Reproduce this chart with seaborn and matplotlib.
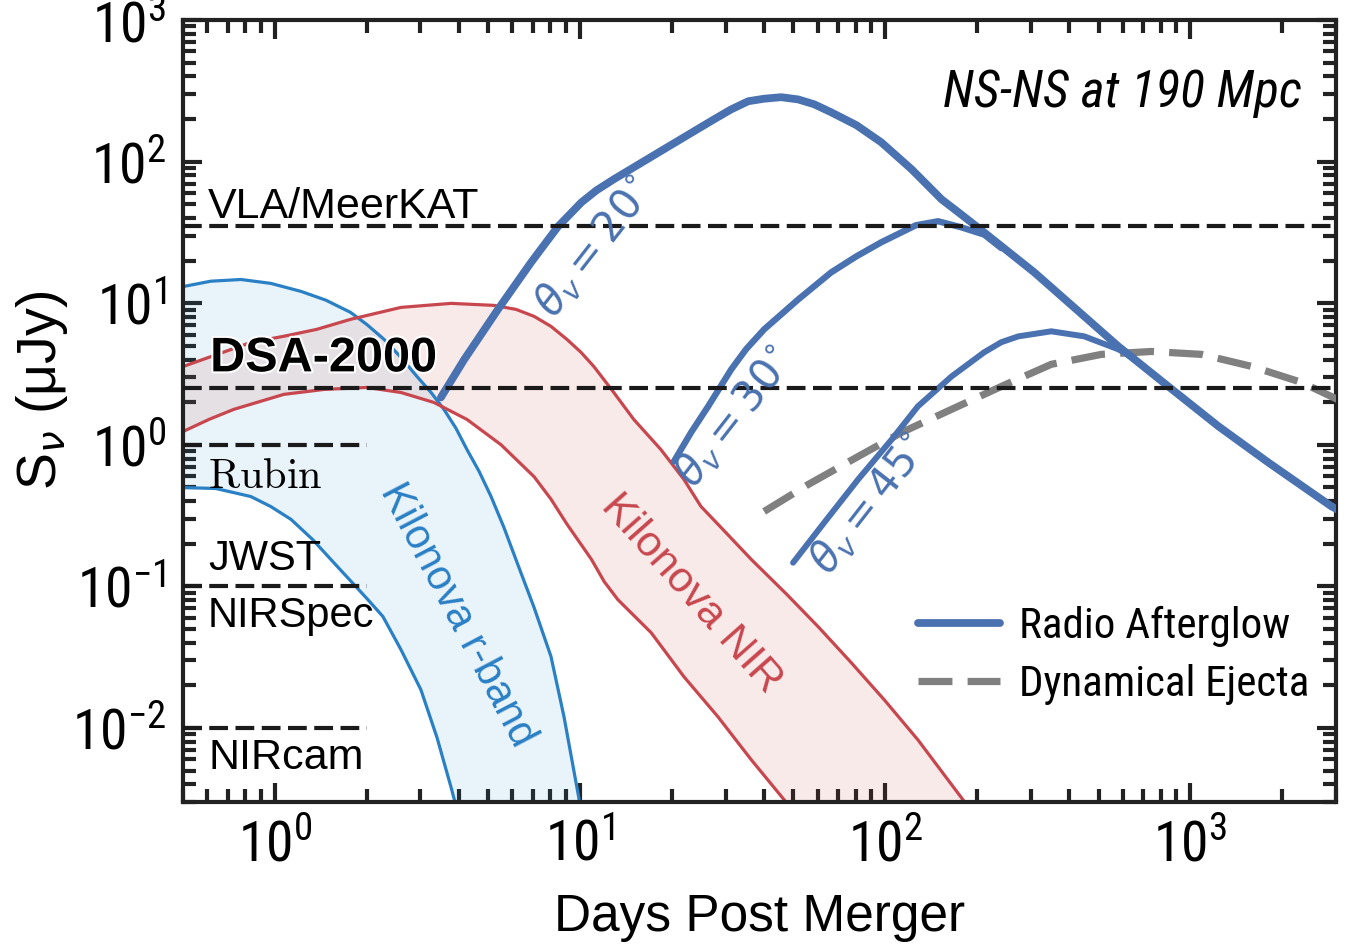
import numpy as np
import matplotlib
matplotlib.use("Agg")
import matplotlib.pyplot as plt
import matplotlib.patheffects as pe
from matplotlib.lines import Line2D
from matplotlib.ticker import LogLocator, NullFormatter
import seaborn as sns

# ---------------- data ----------------
# Radio afterglow, theta_v = 20 deg
ag20_days = [3.50, 4.17, 5.38, 6.91, 7.74, 8.47, 10.1, 11.3, 12.9, 18.8, 27.5, 31.3, 35.6, 40.1,
             45.6, 51.8, 58.5, 66.5, 80.4, 97.0, 122, 153, 177, 211, 308, 449, 581, 847,
             1236, 1802, 2900, 3100]
ag20_flux = [2.16, 3.99, 9.02, 19.4, 26.9, 34.8, 51.5, 62.5, 75.0, 122, 199, 234, 267, 278,
             285, 275, 254, 223, 181, 137, 88.3, 54.1, 42.5, 31.6, 16.5, 8.07, 4.95, 2.58,
             1.35, 0.749, 0.367, 0.34]
# theta_v = 30 deg
ag30_days = [20.3, 23.1, 26.3, 31.3, 35.0, 40.1, 51.8, 66.5, 80.4, 97.0, 126, 149, 177, 211, 240]
ag30_flux = [0.762, 1.22, 1.87, 3.41, 4.73, 6.53, 10.6, 16.5, 21.4, 26.9, 35.5, 37.9, 34.4, 30.5, 24.5]
# theta_v = 45 deg
ag45_days = [49.9, 63.1, 81.5, 105, 128, 165, 211, 240, 273, 350, 449, 581, 650]
ag45_flux = [0.147, 0.282, 0.569, 1.09, 1.87, 3.04, 4.50, 5.30, 5.83, 6.33, 5.83, 4.72, 4.1]
# Dynamical ejecta
ej_days = [40.1, 55.9, 81.5, 113, 165, 240, 350, 511, 745, 1087, 1585, 2312, 2899, 3100]
ej_flux = [0.338, 0.524, 0.826, 1.22, 1.78, 2.58, 3.70, 4.35, 4.56, 4.35, 3.58, 2.76, 2.19, 2.05]

# Kilonova r-band envelope
rb_up_days = [0.5, 0.617, 0.774, 0.970, 1.22, 1.47, 1.77, 2.00, 2.28, 2.59, 2.92, 3.25, 3.58,
              3.92, 4.26, 4.67, 5.11, 5.63, 6.22, 7.07, 8.03, 8.86, 9.93, 10.2]
rb_up_flux = [13.1, 14.3, 14.7, 13.8, 12.1, 10.5, 8.61, 7.08, 5.55, 4.14, 3.04, 2.34, 1.78,
              1.31, 0.926, 0.648, 0.431, 0.261, 0.147, 0.0709, 0.032, 0.012, 0.00313, 0.0022]
rb_lo_days = [0.5, 0.641, 0.834, 0.970, 1.13, 1.33, 1.56, 1.84, 2.03, 2.26, 2.59, 3.01, 3.40, 3.78, 4.0]
rb_lo_flux = [0.499, 0.491, 0.431, 0.366, 0.297, 0.214, 0.147, 0.1, 0.0794, 0.0612, 0.0357,
              0.0186, 0.00853, 0.0038, 0.0024]

# Kilonova NIR envelope
nir_up_days = [0.5, 0.834, 1.07, 1.37, 1.77, 2.59, 3.78, 5.22, 6.17, 7.07, 8.03, 9.06, 10.07,
               11.1, 12.9, 15.0, 18.4, 21.9, 24.9, 29.0, 36.4, 47.3, 60.3, 77.3, 99.3, 128, 180, 190]
nir_up_flux = [3.57, 5.28, 5.84, 6.53, 7.69, 9.34, 9.97, 9.65, 9.04, 8.07, 6.86, 5.55, 4.50,
               3.57, 2.34, 1.51, 0.926, 0.569, 0.367, 0.260, 0.155, 0.0889, 0.0519, 0.029,
               0.0158, 0.00824, 0.00310, 0.0026]
nir_lo_days = [0.5, 0.608, 0.734, 1.07, 1.45, 2.00, 2.59, 3.32, 4.26, 5.51, 7.07, 8.03, 9.06,
               10.9, 12.0, 13.3, 17.1, 21.9, 28.3, 36.4, 46.7, 50]
nir_lo_flux = [1.24, 1.51, 1.78, 2.27, 2.46, 2.54, 2.34, 1.99, 1.51, 1.0, 0.595, 0.413, 0.275,
               0.155, 0.108, 0.0806, 0.0471, 0.0230, 0.0120, 0.00596, 0.00310, 0.0025]

# Sensitivity limits
radio_names = ["VLA/MeerKAT", "DSA-2000"]
radio_flux = [35.0, 2.5]
opt_names = ["Rubin", "JWST\nNIRSpec", "NIRcam"]
opt_flux = [1.0, 0.1, 0.01]
opt_xmax = 2.0

x_ticks = [1, 10, 100, 1000]
x_tick_labels = [r"$\mathregular{10^{0}}$", r"$\mathregular{10^{1}}$",
                 r"$\mathregular{10^{2}}$", r"$\mathregular{10^{3}}$"]
y_ticks = [0.01, 0.1, 1, 10, 100, 1000]
y_tick_labels = [r"$\mathregular{10^{-2}}$", r"$\mathregular{10^{-1}}$", r"$\mathregular{10^{0}}$",
                 r"$\mathregular{10^{1}}$", r"$\mathregular{10^{2}}$", r"$\mathregular{10^{3}}$"]

# ---------------- style ----------------
sns.set_theme(style="ticks")
plt.rcParams["font.family"] = ["Liberation Sans", "DejaVu Sans"]
plt.rcParams["axes.unicode_minus"] = False
plt.rcParams["text.color"] = "black"
plt.rcParams["axes.labelcolor"] = "black"

NARROW = ["Roboto Condensed", "Roboto", "DejaVu Sans"]
BLUE = "#4a72b0"
GRAY = "#808080"
RB_LINE = "#2a80c5"
NIR_LINE = "#c8474e"
AXC = "#222222"

fig = plt.figure(figsize=(13.46, 9.44), dpi=100)
ax = fig.add_axes([183 / 1346, 142 / 944, 1153 / 1346, 782 / 944])
ax.set_xscale("log")
ax.set_yscale("log")

# bands
ax.fill(np.concatenate([rb_up_days, rb_lo_days[::-1]]),
        np.concatenate([rb_up_flux, rb_lo_flux[::-1]]),
        color="#2a8fd0", alpha=0.1, lw=0, zorder=1)
ax.fill(np.concatenate([nir_up_days, nir_lo_days[::-1]]),
        np.concatenate([nir_up_flux, nir_lo_flux[::-1]]),
        color="#c0392b", alpha=0.1, lw=0, zorder=1.1)
for xs, ys, c in [(rb_up_days, rb_up_flux, RB_LINE), (rb_lo_days, rb_lo_flux, RB_LINE),
                  (nir_up_days, nir_up_flux, NIR_LINE), (nir_lo_days, nir_lo_flux, NIR_LINE)]:
    sns.lineplot(x=xs, y=ys, ax=ax, color=c, lw=2.3, sort=False, estimator=None, zorder=2,
                 solid_joinstyle="round")

# ejecta and afterglows
sns.lineplot(x=ej_days, y=ej_flux, ax=ax, color=GRAY, lw=5.2, sort=False, estimator=None,
             linestyle=(0, (4.7, 2.1)), zorder=3)
for xs, ys, lw in [(ag20_days, ag20_flux, 5.6), (ag30_days, ag30_flux, 4.6), (ag45_days, ag45_flux, 4.3)]:
    sns.lineplot(x=xs, y=ys, ax=ax, color=BLUE, lw=lw, sort=False, estimator=None,
                 solid_capstyle="round", solid_joinstyle="round", zorder=4)

# sensitivity lines
for f in radio_flux:
    ax.axhline(f, color="#1a1a1a", lw=3, ls=(0, (4.5, 1.8)), zorder=5)
for f in opt_flux:
    ax.hlines(f, 0.5, opt_xmax, color="#1a1a1a", lw=3, ls=(0, (4.5, 1.8)), zorder=5)

ax.set_xlim(0.5, 3000)
ax.set_ylim(0.003, 1000)

# ticks
ax.set_xticks(x_ticks)
ax.set_xticklabels(x_tick_labels)
ax.set_yticks(y_ticks)
ax.set_yticklabels(y_tick_labels)
for axis in (ax.xaxis, ax.yaxis):
    axis.set_minor_locator(LogLocator(base=10, subs=np.arange(2, 10), numticks=100))
    axis.set_minor_formatter(NullFormatter())
ax.tick_params(which="both", direction="in", top=True, right=True, width=3, color=AXC)
ax.tick_params(which="major", length=14)
ax.tick_params(which="minor", length=9.5)
ax.tick_params(axis="y", pad=12)
ax.tick_params(axis="x", pad=12)
for lab in ax.get_xticklabels() + ax.get_yticklabels():
    lab.set_fontfamily(NARROW)
    lab.set_fontstretch("condensed")
    lab.set_fontsize(40)
    lab.set_color("black")
for s in ax.spines.values():
    s.set_linewidth(3)
    s.set_color(AXC)

ax.set_xlabel("Days Post Merger", fontsize=37, fontfamily="Liberation Sans", va="top", color="black")
ax.xaxis.set_label_coords(0.5004, -0.1164)
ax.set_ylabel(r"S$_\nu$ (μJy)", fontsize=40, fontfamily="Liberation Sans", va="center", color="black")
ax.yaxis.set_label_coords(-0.122, 0.526)

# annotations
ytr = ax.get_yaxis_transform()
ax.text(0.0217, 39.7, radio_names[0], transform=ytr, fontsize=31, va="baseline", zorder=6, color="black")
ax.text(0.0235, 3.3, radio_names[1], transform=ytr, fontsize=35, fontweight="bold", color="black",
        va="baseline", zorder=6, path_effects=[pe.withStroke(linewidth=3, foreground="white")])
ax.text(0.0217, 0.499, r"$\mathrm{%s}$" % opt_names[0], transform=ytr, fontsize=30.5, color="black",
        va="baseline", math_fontfamily="cm", zorder=6)
ax.text(0.0217, 0.1315, opt_names[1].split("\n")[0], transform=ytr, fontsize=30, va="baseline",
        zorder=6, color="black")
ax.text(0.0217, 0.052, opt_names[1].split("\n")[1], transform=ytr, fontsize=30, va="baseline",
        zorder=6, color="black")
ax.text(0.0217, 0.00509, opt_names[2], transform=ytr, fontsize=31, va="baseline", zorder=6, color="black")

ax.text(0.9705, 0.889, "NS-NS at 190 Mpc", transform=ax.transAxes, ha="right", va="baseline",
        fontsize=37, fontstyle="italic", fontfamily=NARROW, fontstretch="condensed", zorder=6,
        color="black")

ax.text(3.95, 0.063, "Kilonova r-band", color=RB_LINE, fontsize=30, rotation=-62.4,
        ha="center", va="center", rotation_mode="anchor", zorder=6)
ax.text(23.1, 0.089, "Kilonova NIR", color=NIR_LINE, fontsize=31, rotation=-48.5,
        ha="center", va="center", rotation_mode="anchor", zorder=6)

for (xx, yy, lab) in [(11.1, 24.8, r"$\theta_v = 20^{\circ}$"),
                      (32.0, 1.58, r"$\theta_v = 30^{\circ}$"),
                      (88.6, 0.38, r"$\theta_v = 45^{\circ}$")]:
    ax.text(xx, yy, lab, color=BLUE, fontsize=30, rotation=52, ha="center", va="center",
            rotation_mode="anchor", math_fontfamily="dejavusans", zorder=6)

handles = [Line2D([0], [0], color=BLUE, lw=5.6, solid_capstyle="round"),
           Line2D([0], [0], color=GRAY, lw=5.2, ls=(0, (4.7, 2.1)))]
leg = ax.legend(handles, ["Radio Afterglow", "Dynamical Ejecta"], loc="center left",
                bbox_to_anchor=(0.6375, 0.187), frameon=False,
                prop={"family": NARROW, "size": 31, "stretch": "condensed"},
                handlelength=1.9, handletextpad=0.45, labelspacing=0.4,
                borderpad=0, borderaxespad=0)
for t in leg.get_texts():
    t.set_color("black")

fig.savefig("out.png", dpi=100)
